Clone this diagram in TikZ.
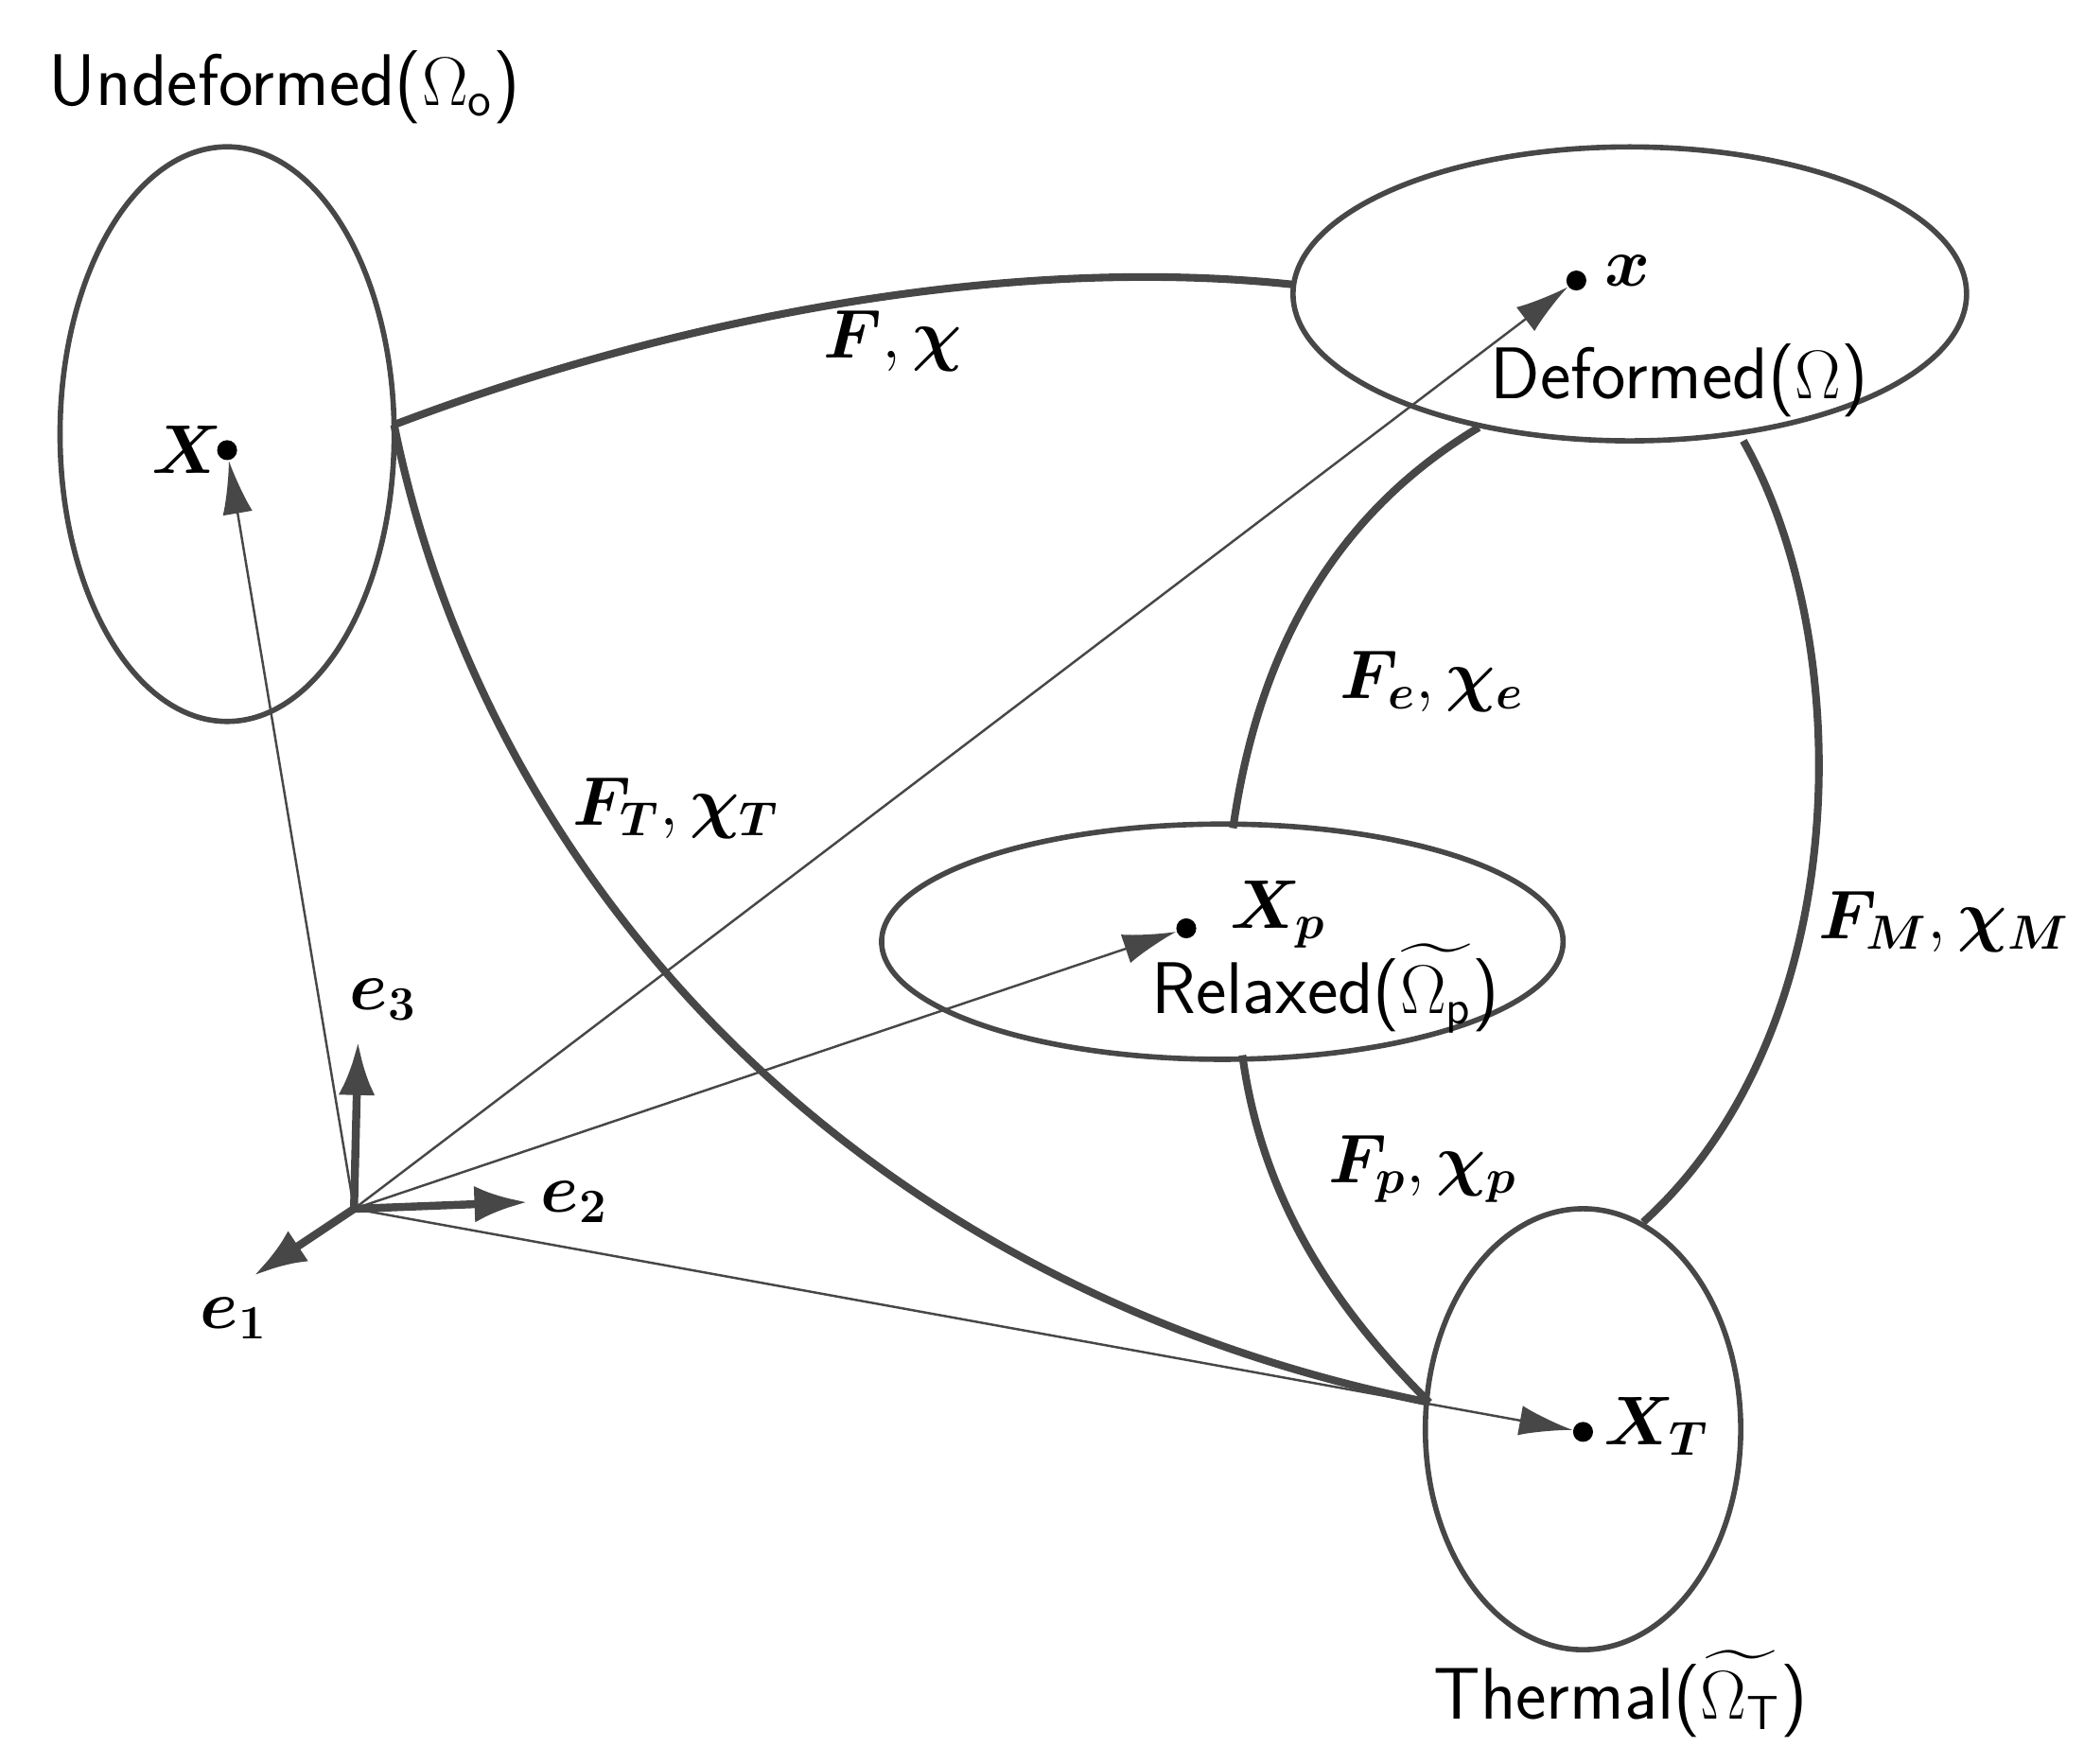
\documentclass[tikz,border=0pt]{standalone}
\usepackage{amsmath,bm}
\usetikzlibrary{arrows.meta}
\begin{document}
\fontsize{22}{26}\selectfont
\begin{tikzpicture}[x=0.01412cm,y=-0.01412cm,
  bnd/.style={draw=black!72,line width=1.6pt},
  map/.style={draw=black!72,line width=2.3pt},
  posvec/.style={draw=black!72,line width=0.7pt,-{Latex[length=16pt,width=9pt]}},
  base/.style={draw=black!72,line width=2.4pt,-{Latex[length=16pt,width=11pt]}},
  lab/.style={font=\sffamily\fontsize{22}{26}\selectfont,inner sep=0pt},
  ml/.style={inner sep=0pt},
  dot/.style={circle,fill=black,inner sep=0pt,minimum size=6pt}]
\useasboundingbox (0,0) rectangle (1560,1320);
% domains
\draw[bnd] (170,325) ellipse [x radius=1.765cm, y radius=3.036cm];
\draw[bnd] (1220,220) ellipse [x radius=3.558cm, y radius=1.553cm];
\draw[bnd] (915,705) ellipse [x radius=3.6cm, y radius=1.243cm];
\draw[bnd] (1185,1070) ellipse [x radius=1.666cm, y radius=2.33cm];
\node[lab] (lu) at (213,65) {Undeformed($\Omega_{\mathsf{o}}$)};
\node[lab] (ld) at (1257,285) {Deformed($\Omega$)};
\node[lab] (lr) at (992,740) {Relaxed($\widetilde{\Omega_{\mathsf{p}}}$)};
\node[lab] (lt) at (1213,1268) {Thermal($\widetilde{\Omega_{\mathsf{T}}}$)};
% points
\node[dot] (X) at (170,337) {};
\node[dot] (x) at (1180,210) {};
\node[dot] (Xp) at (888,695) {};
\node[dot] (XT) at (1185,1072) {};
\node[ml] at (140,337) {$\bm{X}$};
\node[ml] at (1218,203) {$\bm{x}$};
\node[ml] at (957,685) {$\bm{X_p}$};
\node[ml] at (1240,1068) {$\bm{X_T}$};
% connection endpoints
\coordinate (u1) at (295,318);
\coordinate (d1) at (968,213);
\coordinate (d2) at (1107,320);
\coordinate (d3) at (1305,330);
\coordinate (r1) at (923,620);
\coordinate (r2) at (930,790);
\coordinate (t1) at (1070,1050);
\coordinate (t2) at (1230,915);
\draw[map] (u1) .. controls (500,240) and (750,190) .. (d1);
\draw[map] (u1) .. controls (360,640) and (620,960) .. (t1);
\draw[map] (d2) .. controls (990,390) and (940,500) .. (r1);
\draw[map] (d3) .. controls (1390,480) and (1390,770) .. (t2);
\draw[map] (r2) .. controls (945,900) and (1000,980) .. (t1);
\node[ml] at (668,255) {$\bm{F},\bm{\chi}$};
\node[ml] at (506,605) {$\bm{F_T},\bm{\chi_T}$};
\node[ml] at (1072,510) {$\bm{F_e},\bm{\chi_e}$};
\node[ml] at (1455,690) {$\bm{F_M},\bm{\chi_M}$};
\node[ml] at (1065,875) {$\bm{F_p},\bm{\chi_p}$};
% basis
\coordinate (O) at (265,905);
\coordinate (e3) at (268,780);
\coordinate (e2) at (395,900);
\coordinate (e1) at (190,955);
\draw[posvec] (O) -- (X);
\draw[posvec] (O) -- (x);
\draw[posvec] (O) -- (Xp);
\draw[posvec] (O) -- (XT);
\draw[base] (O) -- (e3);
\draw[base] (O) -- (e2);
\draw[base] (O) -- (e1);
\node[ml] at (287,748) {$\bm{e_3}$};
\node[ml] at (430,900) {$\bm{e_2}$};
\node[ml] at (175,987) {$\bm{e_1}$};
\end{tikzpicture}
\end{document}
